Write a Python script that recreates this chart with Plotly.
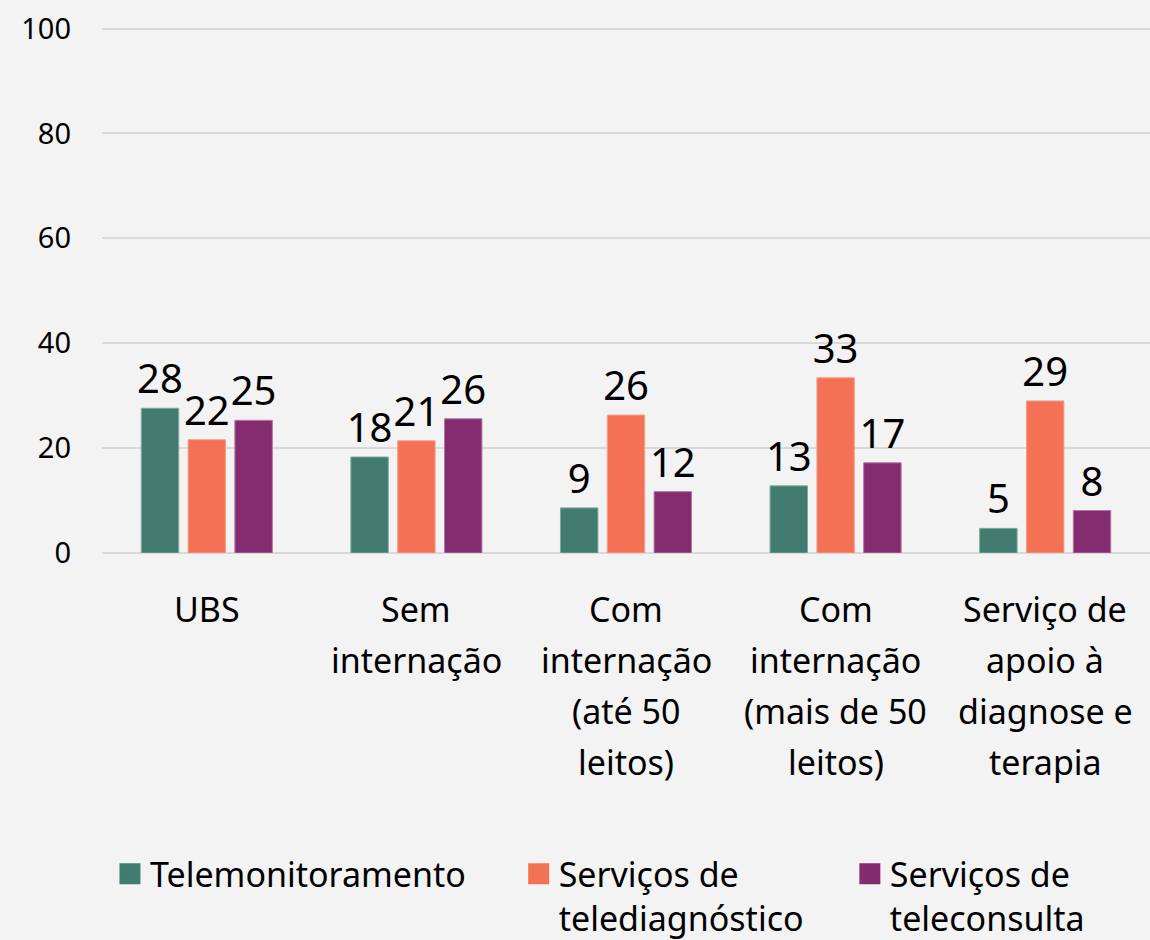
import plotly.graph_objects as go

categories = ["UBS", "Sem\ninternação", "Com\ninternação\n(até 50\nleitos)",
              "Com\ninternação\n(mais de 50\nleitos)", "Serviço de\napoio à\ndiagnose e\nterapia"]
series_names = ["Telemonitoramento", "Serviços de<br>telediagnóstico", "Serviços de<br>teleconsulta"]
telemonitoramento = [27.6, 18.3, 8.6, 12.8, 4.7]
telediagnostico = [21.6, 21.4, 26.3, 33.4, 29.0]
teleconsulta = [25.3, 25.6, 11.7, 17.2, 8.1]
colors = ["#427c70", "#f37155", "#852b70"]
outline = ["#7fa99f", "#f7a08c", "#b07aa1"]
y_ticks = [0, 20, 40, 60, 80, 100]

FONT = "Noto Sans"
x_keys = [c.replace("\n", " ") for c in categories]

fig = go.Figure()
for name, vals, col, oc in zip(series_names, [telemonitoramento, telediagnostico, teleconsulta], colors, outline):
    fig.add_trace(go.Bar(
        x=x_keys, y=vals, marker=dict(color=col, line=dict(color=oc, width=1)),
        text=[f"{v:.0f}" for v in vals], textposition="outside", constraintext="none",
        cliponaxis=False, textfont=dict(size=40, color="#000000", family=FONT),
        showlegend=False, hoverinfo="skip"))

legend_names = ["legend", "legend2", "legend3"]
for name, col, lg in zip(series_names, colors, legend_names):
    fig.add_trace(go.Scatter(
        x=[None], y=[None], mode="markers", name=name, legend=lg,
        marker=dict(symbol="square", size=16, color=col, line=dict(color=col, width=5))))

# category labels, line by line
for key, cat in zip(x_keys, categories):
    for i, line in enumerate(cat.split("\n")):
        fig.add_annotation(x=key, y=0, xref="x", yref="y", text=line, showarrow=False,
                           yanchor="middle", xanchor="center", yshift=-56 - 51 * i,
                           font=dict(size=34, color="#000000", family=FONT))

leg_common = dict(orientation="v", yanchor="top", xanchor="left", valign="top",
                  yref="container", y=0.101,
                  bgcolor="rgba(0,0,0,0)", font=dict(size=34, color="#000000", family=FONT),
                  itemsizing="trace", tracegroupgap=0)
fig.update_layout(
    width=1150, height=940,
    paper_bgcolor="#f3f3f3", plot_bgcolor="#f3f3f3",
    margin=dict(l=102, r=0, t=27, b=387),
    barmode="group", bargap=0.33, bargroupgap=0.2,
    font=dict(family=FONT, color="#000000"),
    xaxis=dict(showticklabels=False, showgrid=False, zeroline=False, showline=False,
               categoryorder="array", categoryarray=x_keys),
    yaxis=dict(range=[0, 100.3], tickvals=y_ticks, showgrid=True, gridcolor="#d9d9d9", gridwidth=1.5,
               zeroline=True, zerolinecolor="#d9d9d9", zerolinewidth=1.5, showline=False,
               tickfont=dict(size=29, color="#000000", family=FONT), ticklabelstandoff=30),
    legend=dict(x=0.0076, **leg_common),
    legend2=dict(x=0.3976, **leg_common),
    legend3=dict(x=0.7136, **leg_common),
)

fig.write_html("out.html", config={"displayModeBar": False},
               post_script="document.body.style.margin='0';document.body.style.overflow='hidden';")
